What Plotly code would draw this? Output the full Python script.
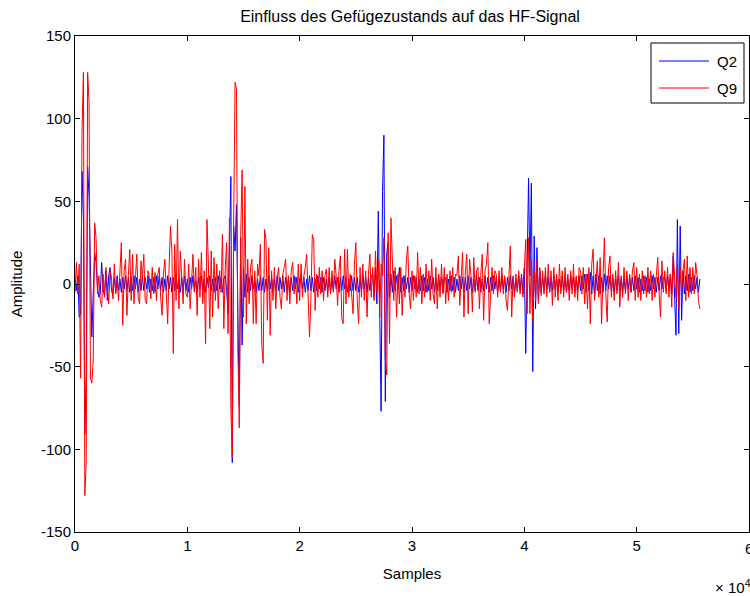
import numpy as np
import plotly.graph_objects as go

# sample spacing between the read-off points (samples)
SAMPLE_STEP = 125

# Q9 (red) amplitudes, chunks of 20 points
q9_values = [
    -5, 13, -6, 12, -57, 92, 128, -128, -108, 128, 110, -57, -60, -45, 37, 28, -6, 5, -10, -14,
    6, -8, 10, -3, -12, 8, 4, -9, 12, -6, 3, -10, 10, 25, -25, 8, 15, -19, 5, 21,
    -10, 18, -12, 5, 18, -8, -12, 14, 3, 18, -10, -12, 8, 4, -9, 10, -6, 7, -10, 6,
    10, -8, -19, 6, 15, -5, -24, 10, 35, 20, -42, 24, -10, 39, -15, 20, 5, -12, 15, -6,
    -8, 12, -15, 6, 18, -5, 10, -19, 15, -8, 19, -12, 8, -36, 39, 12, -27, 20, -20, 16,
    -10, 12, -15, 8, -5, 30, -27, 10, 25, -30, 40, -75, -105, 37, 122, 118, -40, -87, 30, 69,
    -20, 59, -24, 15, -12, 10, 15, -24, 8, -24, 12, 5, 24, -36, -48, 33, 27, -22, 22, -31,
    8, -10, 10, -15, 4, 10, -8, -15, 6, 10, 15, -10, 5, -12, 8, 13, -6, 4, -12, 12,
    -10, 12, -8, 5, 10, 18, -6, -32, -10, 30, 27, -16, 6, -8, 10, -6, 8, -10, 5, 9,
    -8, 10, -6, 8, -5, 15, 5, -13, 8, 17, -21, -24, 21, -12, 21, -8, 6, -10, -18, 12,
    25, -10, -24, 10, -8, 12, -10, 8, -20, 6, 18, -8, 10, -10, 20, -5, 15, -20, 12, 5,
    28, -45, -55, 31, -36, 40, 15, -10, 10, -20, 6, -12, 10, -19, 5, -8, 15, 23, -6, -15,
    8, -10, 5, -8, 19, -6, 10, -12, 6, -8, 12, -5, 8, -10, 15, -6, -12, 10, -15, 6,
    -8, 12, -6, 10, -12, 6, -10, 8, -5, 10, -8, 6, 5, 17, -13, 5, 19, -20, 8, 18,
    -18, 15, 5, -17, 16, -5, 8, 10, -15, 6, 18, -22, 8, 12, 25, -24, -8, 10, -6, 8,
    6, -8, 8, -5, 10, -6, 5, -10, -16, 5, 23, -20, 5, -8, 6, -5, 8, -6, 5, -8,
    10, 27, -18, 28, -18, 15, -23, 8, -10, 15, -12, 10, -7, 8, -6, 10, -8, 12, -5, 8,
    -13, 10, -8, 6, -10, 12, -6, 8, -8, 10, -5, 6, -10, 8, -6, 12, -8, 5, -10, 10,
    8, -6, 10, -12, 6, -15, 10, -24, 12, 21, -10, 5, 14, -8, 16, -24, 8, 28, -6, -23,
    10, 17, -8, 6, -10, 8, -6, 13, -14, 5, -8, 10, -6, 8, -10, 6, -5, 8, 13, -10,
    10, -8, 6, -10, 8, -6, 5, -8, 10, -6, 8, -10, 6, -8, 5, 16, -6, -20, 14, -5,
    8, -6, 10, -8, 6, -14, 19, 5, -8, 12, -15, 10, -6, 8, 15, -10, 17, -8, 10, -6,
    10, -6, 13, 5, -10, -15,
]

# Q2 (blue) amplitudes, chunks of 20 points
q2_values = [
    3, -4, 5, -20, -18, 68, 40, -91, -53, 71, 53, -5, -32, -5, 19, 13, -2, -8, -6, 13,
    -3, -7, 8, -10, 5, 10, -4, -7, 4, -5, 5, -4, 3, -5, 4, -3, 5, -4, 4, -5,
    4, -4, 5, -3, 4, -5, 3, -4, 5, -4, 4, -3, 5, -5, 3, -4, 4, -5, 5, -3,
    5, -4, 4, -5, 3, -4, 5, -3, 4, -5, 4, -4, 5, -3, 3, -5, 4, -4, 5, -4,
    3, -5, 4, -3, 5, -4, 2, -5, 4, -3, 5, -4, 3, -5, 4, -2, 5, -4, 3, -5,
    4, -4, 5, -3, 4, -5, 3, 5, -4, -18, 15, 65, -108, 35, 20, 48, -20, -73, 28, -37,
    10, -8, 6, -5, 4, -4, 5, -3, 4, -5, 3, -4, 5, -4, 4, -5, 3, -4, 5, -3,
    4, -5, 3, -4, 5, -4, 4, -3, 5, -5, 4, -4, 3, -5, 4, -4, 5, -3, 4, -5,
    3, 5, -3, 4, -5, 3, -4, 5, -4, 4, -5, 3, -4, 5, -3, 4, -5, 4, -4, 3,
    -4, 4, -5, 3, -4, 5, -3, 4, -5, 4, -4, 5, -3, 4, -5, 3, -4, 5, -4, 4,
    -4, 4, -5, 3, -4, 5, -3, 4, -5, 4, -4, 5, 6, -8, 10, -12, 44, -30, -77, 56,
    90, -71, 19, 25, -8, 6, -5, 8, -4, 5, -3, 10, -5, 4, -4, 5, -3, 4, -5, 4,
    -4, 5, -3, 4, -5, 3, -4, 5, -4, 4, -5, 3, -4, 5, -3, 4, -5, 4, -4, 5,
    -4, 4, -5, 3, 4, -5, 3, -4, 5, -4, 4, -5, 3, -4, 5, -3, 4, -5, 4, -4,
    5, -3, 4, -5, 3, -4, 5, -4, 4, -5, 3, -4, 5, -3, 4, -5, 4, -4, 5, -3,
    4, -5, 3, -4, 5, -3, 4, -5, 4, -4, 5, -3, 4, -5, 3, -4, 5, -4, 6, -6,
    10, -42, 25, 64, 5, 61, -53, 29, -15, 22, -10, 8, -5, 4, -4, 5, -3, 4, -5, 4,
    -4, 5, -3, 4, -5, 3, -4, 5, -4, 4, -5, 3, -4, 5, -3, 4, -5, 4, -4, 5,
    -4, 5, -3, 6, -5, 6, -4, 7, -6, 5, -7, 6, -4, 5, -6, 4, -5, 6, -4, 5,
    -3, 5, -4, 4, -5, 3, -4, 5, -4, 4, -5, 3, -4, 5, -3, 4, -5, 4, -4, 5,
    -3, 4, -5, 3, -4, 5, -4, 4, -5, 3, -4, 5, -3, 4, -5, 4, -4, 5, -3, 4,
    4, -4, 5, -3, 6, -6, 17, -12, -31, 39, -30, 35, -22, 8, -6, 5, -4, 6, -5, 4,
    -4, 5, -3, 4, -5, 3,
]

series_names = ["Q2", "Q9"]
series_colors = ["#0000ff", "#ff0000"]

n = min(len(q9_values), len(q2_values))
samples = np.arange(n) * SAMPLE_STEP

x_tickvals = [0, 10000, 20000, 30000, 40000, 50000, 60000]
x_ticktext = ["0", "1", "2", "3", "4", "5", "6"]
y_tickvals = [-150, -100, -50, 0, 50, 100, 150]
y_ticktext = ["-150", "-100", "-50", "0", "50", "100", "150"]

FONT = "Liberation Sans, Arial, Helvetica, sans-serif"
W, H = 750, 596
ML, MR, MT, MB = 75, 1, 36, 64
PW, PH = W - ML - MR, H - MT - MB


def px_x(p):
    return (p - ML) / PW


def px_y(p):
    return (H - MB - p) / PH


fig = go.Figure()
for vals, name, col in zip([q2_values, q9_values], series_names, series_colors):
    fig.add_trace(go.Scatter(x=samples, y=vals[:n], mode="lines", name=name,
                             line=dict(color=col, width=1), showlegend=False))

axis_common = dict(showline=True, linecolor="black", linewidth=1, mirror="ticks",
                   ticks="inside", ticklen=5, tickcolor="black", showgrid=False,
                   zeroline=False, tickfont=dict(family=FONT, size=15, color="black"))

fig.update_layout(
    width=W, height=H,
    margin=dict(l=ML, r=MR, t=MT, b=MB),
    paper_bgcolor="white", plot_bgcolor="white",
    font=dict(family=FONT, size=15, color="black"),
    title=dict(text="Einfluss des Gefügezustands auf das HF-Signal",
               x=410 / W, xanchor="center", y=1 - 16 / H, yanchor="middle",
               font=dict(family=FONT, size=16, color="black")),
    xaxis=dict(range=[0, 60000], tickvals=x_tickvals, ticktext=x_ticktext,
               title=dict(text="Samples", standoff=15, font=dict(family=FONT, size=15)),
               **axis_common),
    yaxis=dict(range=[-150, 150], tickvals=y_tickvals, ticktext=y_ticktext,
               title=dict(text="Amplitude", standoff=14, font=dict(family=FONT, size=15)),
               **axis_common),
    showlegend=False,
)

# the last x tick label sits at the very edge of the canvas
fig.add_annotation(text=x_ticktext[-1], xref="paper", yref="paper",
                   x=1.0, y=px_y(548), xanchor="center", yanchor="middle",
                   showarrow=False, font=dict(family=FONT, size=15, color="black"))

# exponent label
fig.add_annotation(text="× 10<sup>4</sup>", xref="paper", yref="paper",
                   x=px_x(713), y=px_y(586), xanchor="left", yanchor="middle",
                   showarrow=False, font=dict(family=FONT, size=15, color="black"))

# legend box drawn in MATLAB style
fig.add_shape(type="rect", xref="paper", yref="paper",
              x0=px_x(651), x1=px_x(744), y0=px_y(103), y1=px_y(43),
              line=dict(color="black", width=1), fillcolor="white", layer="above")
for k, (name, col) in enumerate(zip(series_names, series_colors)):
    ypx = 61 + 27 * k
    fig.add_shape(type="line", xref="paper", yref="paper",
                  x0=px_x(659), x1=px_x(709), y0=px_y(ypx), y1=px_y(ypx),
                  line=dict(color=col, width=1), layer="above")
    fig.add_annotation(text=name, xref="paper", yref="paper",
                       x=px_x(715), y=px_y(ypx), xanchor="left", yanchor="middle",
                       showarrow=False, font=dict(family=FONT, size=15, color="black"))

fig.write_html("out.html")
